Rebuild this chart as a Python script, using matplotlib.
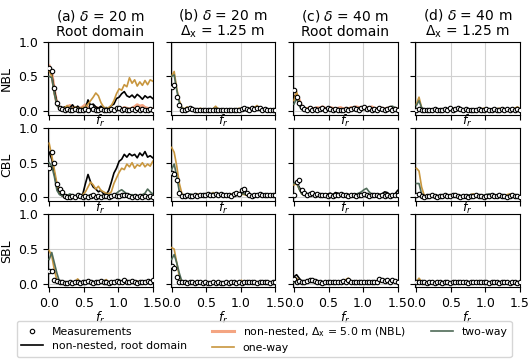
import matplotlib
matplotlib.use("Agg")
import matplotlib.pyplot as plt
from matplotlib.lines import Line2D

# normalised frequency grid
fr = [0.0, 0.0375, 0.075, 0.1125, 0.15, 0.1875, 0.225, 0.2625, 0.3, 0.3375,
      0.375, 0.4125, 0.45, 0.4875, 0.525, 0.5625, 0.6, 0.6375, 0.675, 0.7125,
      0.75, 0.7875, 0.825, 0.8625, 0.9, 0.9375, 0.975, 1.0125, 1.05, 1.0875,
      1.125, 1.1625, 1.2, 1.2375, 1.275, 1.3125, 1.35, 1.3875, 1.425, 1.4625, 1.5]

titles = [r"(a) $\delta$ = 20 m" + "\nRoot domain",
          r"(b) $\delta$ = 20 m" + "\n" + r"$\Delta_\mathrm{x}$ = 1.25 m",
          r"(c) $\delta$ = 40 m" + "\nRoot domain",
          r"(d) $\delta$ = 40 m" + "\n" + r"$\Delta_\mathrm{x}$ = 1.25 m"]
rows = ["NBL", "CBL", "SBL"]

# ---- NBL ----
meas_nbl_a = [0.62,0.57,0.33,0.12,0.05,0.03,0.02,0.03,0.01,0.02,0.03,0.02,0.01,0.02,0.03,0.02,0.07,0.03,0.02,0.01,0.03,0.02,0.01,0.02,0.03,0.02,0.04,0.05,0.02,0.03,0.02,0.01,0.03,0.02,0.04,0.02,0.03,0.01,0.02,0.03,0.02]
root_nbl_a = [0.60,0.52,0.30,0.12,0.05,0.04,0.06,0.03,0.05,0.09,0.04,0.07,0.03,0.05,0.04,0.16,0.08,0.10,0.06,0.04,0.07,0.03,0.05,0.04,0.08,0.10,0.18,0.20,0.25,0.28,0.22,0.20,0.23,0.19,0.24,0.21,0.17,0.22,0.19,0.21,0.18]
nn5_nbl_a = [0.65,0.55,0.30,0.10,0.05,0.03,0.04,0.06,0.08,0.04,0.03,0.05,0.04,0.06,0.09,0.05,0.04,0.03,0.05,0.04,0.03,0.02,0.03,0.04,0.03,0.02,0.03,0.04,0.03,0.05,0.04,0.03,0.04,0.06,0.09,0.07,0.08,0.05,0.04,0.03,0.03]
one_nbl_a = [0.58,0.50,0.25,0.10,0.05,0.03,0.05,0.08,0.04,0.03,0.06,0.04,0.03,0.05,0.06,0.10,0.15,0.20,0.26,0.22,0.12,0.06,0.04,0.05,0.08,0.15,0.25,0.32,0.30,0.38,0.35,0.48,0.40,0.45,0.36,0.42,0.37,0.44,0.38,0.45,0.43]
two_nbl_a = [0.50,0.48,0.25,0.08,0.04,0.03,0.04,0.03,0.05,0.03,0.02,0.04,0.03,0.02,0.05,0.03,0.02,0.04,0.03,0.02,0.03,0.02,0.04,0.03,0.02,0.03,0.04,0.02,0.03,0.02,0.04,0.03,0.02,0.03,0.04,0.03,0.02,0.03,0.02,0.04,0.03]

meas_nbl_b = [0.35,0.38,0.20,0.08,0.02,0.02,0.03,0.04,0.03,0.02,0.01,0.01,0.02,0.01,0.02,0.02,0.01,0.02,0.01,0.01,0.02,0.02,0.01,0.02,0.01,0.02,0.02,0.03,0.04,0.03,0.02,0.04,0.03,0.04,0.04,0.02,0.03,0.02,0.01,0.02,0.01]
one_nbl_b = [0.50,0.57,0.32,0.15,0.05,0.03,0.06,0.03,0.02,0.03,0.02,0.04,0.03,0.02,0.03,0.02,0.03,0.07,0.03,0.02,0.03,0.02,0.03,0.02,0.03,0.02,0.04,0.03,0.02,0.03,0.04,0.03,0.05,0.08,0.04,0.03,0.02,0.03,0.02,0.03,0.02]
two_nbl_b = [0.50,0.52,0.30,0.12,0.04,0.03,0.04,0.03,0.02,0.03,0.02,0.03,0.02,0.02,0.03,0.02,0.03,0.04,0.03,0.02,0.03,0.02,0.02,0.03,0.02,0.03,0.03,0.02,0.03,0.02,0.03,0.04,0.03,0.05,0.04,0.03,0.02,0.03,0.02,0.03,0.02]

meas_nbl_c = [0.30,0.20,0.12,0.06,0.03,0.02,0.04,0.02,0.03,0.02,0.03,0.05,0.02,0.04,0.03,0.02,0.03,0.02,0.01,0.02,0.03,0.02,0.03,0.04,0.03,0.02,0.05,0.06,0.03,0.04,0.02,0.03,0.02,0.04,0.03,0.02,0.03,0.04,0.02,0.03,0.02]
root_nbl_c = [0.22,0.20,0.14,0.05,0.03,0.02,0.03,0.02,0.04,0.03,0.02,0.03,0.04,0.02,0.03,0.02,0.03,0.04,0.02,0.03,0.02,0.03,0.04,0.03,0.02,0.05,0.03,0.04,0.02,0.03,0.04,0.02,0.03,0.02,0.04,0.03,0.02,0.03,0.04,0.02,0.03]
nn5_nbl_c = [0.20,0.24,0.16,0.06,0.04,0.03,0.05,0.04,0.03,0.05,0.04,0.06,0.04,0.03,0.05,0.04,0.03,0.04,0.05,0.03,0.04,0.03,0.05,0.04,0.06,0.05,0.04,0.03,0.05,0.04,0.06,0.04,0.03,0.05,0.04,0.03,0.04,0.05,0.03,0.04,0.03]
one_nbl_c = [0.15,0.28,0.13,0.05,0.03,0.04,0.02,0.03,0.04,0.02,0.03,0.02,0.03,0.04,0.02,0.03,0.02,0.03,0.02,0.03,0.02,0.04,0.03,0.02,0.03,0.02,0.03,0.05,0.03,0.02,0.03,0.02,0.04,0.03,0.02,0.03,0.04,0.03,0.02,0.03,0.03]
two_nbl_c = [0.10,0.18,0.08,0.02,0.02,0.03,0.02,0.03,0.02,0.03,0.02,0.03,0.02,0.03,0.04,0.02,0.03,0.02,0.03,0.02,0.03,0.02,0.03,0.02,0.03,0.04,0.03,0.02,0.03,0.02,0.03,0.04,0.03,0.05,0.04,0.03,0.04,0.06,0.07,0.05,0.03]

meas_nbl_d = [0.02,0.03,0.02,0.01,0.02,0.01,0.02,0.03,0.02,0.01,0.02,0.03,0.02,0.04,0.02,0.03,0.05,0.03,0.02,0.03,0.02,0.01,0.02,0.02,0.03,0.02,0.02,0.03,0.02,0.02,0.03,0.02,0.02,0.03,0.02,0.03,0.02,0.03,0.02,0.03,0.02]
one_nbl_d = [0.10,0.20,0.05,0.02,0.02,0.03,0.02,0.03,0.02,0.03,0.02,0.03,0.02,0.03,0.04,0.03,0.02,0.03,0.02,0.03,0.02,0.03,0.02,0.03,0.02,0.03,0.04,0.03,0.02,0.03,0.02,0.03,0.04,0.03,0.02,0.03,0.02,0.03,0.04,0.06,0.03]
two_nbl_d = [0.08,0.15,0.05,0.02,0.02,0.02,0.03,0.02,0.02,0.03,0.02,0.02,0.03,0.02,0.03,0.04,0.03,0.02,0.02,0.03,0.02,0.02,0.03,0.02,0.02,0.03,0.02,0.03,0.02,0.02,0.03,0.02,0.02,0.03,0.02,0.02,0.03,0.02,0.03,0.02,0.02]

# ---- CBL ----
meas_cbl_a = [0.43,0.65,0.50,0.20,0.12,0.08,0.02,0.01,0.01,0.02,0.01,0.03,0.02,0.01,0.02,0.01,0.02,0.03,0.01,0.02,0.01,0.02,0.02,0.01,0.02,0.03,0.02,0.02,0.03,0.04,0.03,0.02,0.01,0.02,0.01,0.02,0.01,0.02,0.01,0.02,0.01]
root_cbl_a = [0.65,0.55,0.35,0.14,0.05,0.02,0.03,0.02,0.04,0.03,0.02,0.03,0.02,0.05,0.20,0.33,0.22,0.15,0.12,0.08,0.10,0.05,0.04,0.10,0.22,0.35,0.42,0.52,0.55,0.62,0.58,0.63,0.60,0.62,0.57,0.64,0.60,0.66,0.58,0.60,0.57]
one_cbl_a = [0.78,0.60,0.40,0.20,0.08,0.03,0.02,0.03,0.02,0.03,0.02,0.03,0.02,0.04,0.08,0.15,0.22,0.18,0.12,0.16,0.10,0.08,0.06,0.05,0.08,0.20,0.28,0.36,0.42,0.40,0.48,0.44,0.50,0.42,0.47,0.45,0.50,0.44,0.48,0.45,0.52]
two_cbl_a = [0.50,0.45,0.30,0.10,0.04,0.03,0.02,0.03,0.05,0.03,0.02,0.04,0.03,0.02,0.03,0.02,0.04,0.03,0.02,0.03,0.02,0.03,0.02,0.03,0.04,0.03,0.06,0.09,0.11,0.08,0.05,0.03,0.04,0.03,0.02,0.03,0.04,0.06,0.12,0.08,0.05]

meas_cbl_b = [0.35,0.33,0.25,0.06,0.02,0.02,0.03,0.02,0.02,0.03,0.02,0.03,0.04,0.03,0.05,0.04,0.03,0.05,0.04,0.05,0.03,0.04,0.03,0.02,0.05,0.06,0.05,0.10,0.12,0.06,0.03,0.02,0.04,0.03,0.05,0.03,0.04,0.03,0.04,0.03,0.03]
one_cbl_b = [0.72,0.65,0.45,0.20,0.05,0.03,0.04,0.03,0.04,0.03,0.05,0.04,0.03,0.05,0.06,0.04,0.07,0.05,0.04,0.03,0.05,0.04,0.03,0.04,0.06,0.05,0.07,0.05,0.04,0.03,0.04,0.03,0.05,0.04,0.03,0.05,0.04,0.03,0.05,0.04,0.03]
two_cbl_b = [0.40,0.48,0.30,0.08,0.03,0.04,0.03,0.05,0.04,0.03,0.04,0.03,0.05,0.04,0.03,0.05,0.06,0.04,0.03,0.04,0.03,0.05,0.04,0.03,0.04,0.05,0.04,0.06,0.05,0.04,0.03,0.04,0.03,0.04,0.05,0.03,0.04,0.05,0.03,0.04,0.03]

meas_cbl_c = [0.03,0.22,0.25,0.10,0.06,0.03,0.05,0.06,0.04,0.05,0.03,0.04,0.03,0.02,0.03,0.02,0.04,0.03,0.05,0.03,0.04,0.02,0.03,0.04,0.02,0.03,0.04,0.05,0.03,0.02,0.03,0.04,0.03,0.02,0.03,0.02,0.04,0.02,0.03,0.04,0.03]
root_cbl_c = [0.20,0.22,0.15,0.08,0.04,0.03,0.05,0.04,0.03,0.04,0.05,0.03,0.04,0.05,0.06,0.04,0.07,0.06,0.04,0.03,0.05,0.04,0.03,0.02,0.04,0.03,0.04,0.03,0.02,0.03,0.04,0.03,0.02,0.04,0.05,0.08,0.07,0.04,0.03,0.05,0.10]
one_cbl_c = [0.18,0.20,0.12,0.05,0.03,0.04,0.03,0.04,0.05,0.04,0.03,0.04,0.03,0.04,0.03,0.04,0.03,0.04,0.03,0.04,0.03,0.04,0.03,0.04,0.03,0.04,0.05,0.04,0.03,0.04,0.03,0.04,0.03,0.04,0.03,0.04,0.03,0.04,0.03,0.04,0.03]
two_cbl_c = [0.20,0.23,0.12,0.05,0.04,0.05,0.04,0.06,0.05,0.05,0.04,0.05,0.04,0.03,0.04,0.03,0.05,0.04,0.03,0.04,0.05,0.04,0.03,0.04,0.05,0.06,0.08,0.11,0.13,0.08,0.05,0.04,0.03,0.04,0.03,0.04,0.05,0.04,0.03,0.04,0.05]

meas_cbl_d = [0.03,0.05,0.02,0.01,0.02,0.02,0.03,0.02,0.01,0.02,0.02,0.03,0.02,0.02,0.03,0.04,0.02,0.01,0.02,0.02,0.01,0.02,0.02,0.03,0.02,0.02,0.01,0.02,0.02,0.03,0.02,0.02,0.03,0.02,0.02,0.01,0.02,0.03,0.02,0.02,0.01]
one_cbl_d = [0.42,0.38,0.15,0.03,0.02,0.03,0.02,0.03,0.02,0.02,0.03,0.02,0.03,0.04,0.03,0.02,0.03,0.02,0.03,0.02,0.03,0.04,0.05,0.03,0.02,0.03,0.02,0.03,0.02,0.03,0.02,0.03,0.02,0.03,0.02,0.04,0.05,0.03,0.02,0.03,0.02]
two_cbl_d = [0.20,0.20,0.05,0.02,0.02,0.02,0.03,0.02,0.02,0.03,0.02,0.02,0.03,0.02,0.03,0.04,0.03,0.02,0.03,0.02,0.03,0.04,0.03,0.02,0.03,0.02,0.03,0.04,0.05,0.04,0.03,0.02,0.03,0.02,0.03,0.02,0.03,0.02,0.03,0.02,0.02]

# ---- SBL ----
meas_sbl_a = [0.18,0.18,0.05,0.04,0.02,0.03,0.01,0.01,0.02,0.01,0.02,0.03,0.01,0.02,0.03,0.04,0.02,0.01,0.03,0.02,0.04,0.02,0.03,0.01,0.02,0.03,0.04,0.03,0.02,0.05,0.03,0.02,0.04,0.02,0.01,0.02,0.03,0.02,0.04,0.03,0.05]
one_sbl_a = [0.48,0.40,0.20,0.05,0.02,0.02,0.01,0.02,0.03,0.02,0.03,0.07,0.02,0.03,0.02,0.04,0.03,0.02,0.03,0.02,0.04,0.03,0.06,0.02,0.03,0.02,0.03,0.04,0.02,0.03,0.02,0.03,0.02,0.03,0.04,0.02,0.03,0.02,0.03,0.04,0.03]
two_sbl_a = [0.35,0.45,0.30,0.15,0.03,0.02,0.02,0.01,0.02,0.02,0.03,0.02,0.03,0.02,0.02,0.03,0.02,0.03,0.02,0.03,0.02,0.02,0.03,0.02,0.02,0.03,0.02,0.06,0.03,0.02,0.03,0.02,0.03,0.02,0.03,0.02,0.02,0.03,0.02,0.04,0.03]

meas_sbl_b = [0.25,0.22,0.10,0.03,0.02,0.02,0.01,0.02,0.02,0.01,0.02,0.02,0.01,0.02,0.01,0.01,0.02,0.01,0.02,0.01,0.01,0.02,0.01,0.02,0.02,0.01,0.02,0.01,0.02,0.02,0.03,0.02,0.02,0.01,0.02,0.03,0.02,0.02,0.01,0.02,0.02]
one_sbl_b = [0.52,0.50,0.30,0.10,0.02,0.01,0.02,0.01,0.02,0.01,0.02,0.02,0.01,0.02,0.02,0.01,0.02,0.01,0.02,0.02,0.01,0.02,0.01,0.02,0.02,0.02,0.03,0.05,0.02,0.02,0.03,0.02,0.02,0.03,0.02,0.03,0.02,0.02,0.03,0.02,0.02]
two_sbl_b = [0.35,0.42,0.30,0.15,0.03,0.02,0.01,0.02,0.01,0.02,0.01,0.02,0.01,0.02,0.01,0.02,0.02,0.01,0.02,0.01,0.02,0.02,0.01,0.02,0.02,0.02,0.02,0.03,0.02,0.02,0.02,0.03,0.02,0.02,0.03,0.02,0.02,0.03,0.02,0.02,0.02]

meas_sbl_c = [0.07,0.03,0.04,0.02,0.03,0.04,0.05,0.06,0.04,0.02,0.02,0.01,0.02,0.03,0.02,0.02,0.03,0.02,0.02,0.04,0.03,0.05,0.03,0.02,0.02,0.02,0.02,0.02,0.02,0.02,0.02,0.02,0.03,0.07,0.05,0.04,0.06,0.03,0.05,0.04,0.03]
root_sbl_c = [0.10,0.13,0.08,0.03,0.02,0.03,0.04,0.03,0.02,0.03,0.02,0.02,0.03,0.02,0.02,0.03,0.02,0.02,0.03,0.02,0.03,0.04,0.03,0.02,0.02,0.03,0.02,0.02,0.03,0.02,0.02,0.03,0.02,0.03,0.05,0.04,0.05,0.03,0.04,0.03,0.04]
one_sbl_c = [0.03,0.08,0.04,0.02,0.02,0.03,0.04,0.03,0.02,0.02,0.03,0.02,0.02,0.03,0.02,0.02,0.03,0.02,0.02,0.03,0.06,0.08,0.04,0.02,0.02,0.03,0.02,0.02,0.03,0.02,0.02,0.03,0.02,0.02,0.03,0.05,0.04,0.03,0.05,0.04,0.04]
two_sbl_c = [0.02,0.05,0.03,0.02,0.02,0.02,0.03,0.02,0.02,0.02,0.02,0.02,0.02,0.02,0.02,0.02,0.02,0.02,0.02,0.02,0.04,0.06,0.03,0.02,0.02,0.02,0.02,0.02,0.02,0.02,0.02,0.02,0.02,0.03,0.04,0.06,0.05,0.04,0.05,0.05,0.04]

meas_sbl_d = [0.02,0.03,0.02,0.02,0.01,0.02,0.02,0.01,0.02,0.02,0.01,0.02,0.02,0.01,0.02,0.02,0.02,0.03,0.02,0.02,0.01,0.02,0.02,0.02,0.03,0.02,0.02,0.02,0.01,0.02,0.02,0.02,0.01,0.02,0.02,0.02,0.01,0.02,0.02,0.01,0.02]
one_sbl_d = [0.03,0.08,0.03,0.02,0.01,0.02,0.02,0.01,0.03,0.02,0.01,0.02,0.02,0.01,0.02,0.02,0.01,0.02,0.02,0.01,0.02,0.02,0.01,0.02,0.02,0.01,0.02,0.02,0.01,0.02,0.02,0.01,0.02,0.02,0.01,0.02,0.02,0.01,0.02,0.02,0.01]
two_sbl_d = [0.02,0.05,0.02,0.01,0.01,0.02,0.01,0.01,0.02,0.01,0.01,0.02,0.01,0.01,0.02,0.01,0.01,0.02,0.01,0.01,0.02,0.02,0.02,0.02,0.02,0.02,0.02,0.02,0.02,0.02,0.02,0.02,0.02,0.02,0.02,0.02,0.02,0.02,0.02,0.01,0.01]

c_root = "black"
c_nn5 = "#f4a582"
c_one = "#c8963e"
c_two = "#4f6b58"

# panel contents: (meas, root, nn5, one, two)
panels = [
    [(meas_nbl_a, root_nbl_a, nn5_nbl_a, one_nbl_a, two_nbl_a),
     (meas_nbl_b, None, None, one_nbl_b, two_nbl_b),
     (meas_nbl_c, root_nbl_c, nn5_nbl_c, one_nbl_c, two_nbl_c),
     (meas_nbl_d, None, None, one_nbl_d, two_nbl_d)],
    [(meas_cbl_a, root_cbl_a, None, one_cbl_a, two_cbl_a),
     (meas_cbl_b, None, None, one_cbl_b, two_cbl_b),
     (meas_cbl_c, root_cbl_c, None, one_cbl_c, two_cbl_c),
     (meas_cbl_d, None, None, one_cbl_d, two_cbl_d)],
    [(meas_sbl_a, None, None, one_sbl_a, two_sbl_a),
     (meas_sbl_b, None, None, one_sbl_b, two_sbl_b),
     (meas_sbl_c, root_sbl_c, None, one_sbl_c, two_sbl_c),
     (meas_sbl_d, None, None, one_sbl_d, two_sbl_d)],
]

plt.rcParams["font.size"] = 9
fig, axes = plt.subplots(3, 4, figsize=(5.29, 3.59), dpi=100, sharex=True, sharey=True)
fig.subplots_adjust(left=0.091, right=0.983, top=0.884, bottom=0.2, wspace=0.17, hspace=0.185)

for i in range(3):
    for j in range(4):
        ax = axes[i, j]
        ax.set_facecolor("none")
        meas, root, nn5, one, two = panels[i][j]
        if nn5 is not None:
            ax.plot(fr, nn5, color=c_nn5, lw=2.2, zorder=2)
        if root is not None:
            ax.plot(fr, root, color=c_root, lw=1.2, zorder=3)
        ax.plot(fr, one, color=c_one, lw=1.2, zorder=4)
        ax.plot(fr, two, color=c_two, lw=1.2, zorder=5)
        ax.plot(fr, meas, "o", ms=3.2, mfc="white", mec="black", mew=0.8, zorder=6)
        ax.grid(True, color="#d0d0d0", lw=0.8)
        ax.set_axisbelow(True)
        ax.set_xlim(-0.015, 1.5)
        ax.set_ylim(-0.05, 1.0)
        ax.set_xticks([0, 0.5, 1.0, 1.5])
        ax.set_yticks([0, 0.5, 1.0])
        ax.set_xlabel(r"$f_r$", labelpad=-4.5 if i < 2 else 0)
        if i == 0:
            ax.set_title(titles[j], fontsize=10, pad=4, linespacing=1.1)
        if j == 0:
            ax.set_ylabel(rows[i])

handles = [
    Line2D([], [], ls="none", marker="o", ms=3.2, mfc="white", mec="black", mew=0.8),
    Line2D([], [], color=c_root, lw=1.2),
    Line2D([], [], color=c_nn5, lw=2.2),
    Line2D([], [], color=c_one, lw=1.2),
    Line2D([], [], color=c_two, lw=1.2),
]
labels = ["Measurements", "non-nested, root domain",
          r"non-nested, $\Delta_\mathrm{x}$ = 5.0 m (NBL)", "one-way", "two-way"]
fig.legend(handles, labels, ncol=3, loc="lower left", bbox_to_anchor=(0.032, 0.005, 0.935, 0.1),
           mode="expand", fontsize=7.8, borderaxespad=0, handletextpad=0.8,
           labelspacing=0.35, frameon=True)

fig.savefig("out.png", dpi=100)
